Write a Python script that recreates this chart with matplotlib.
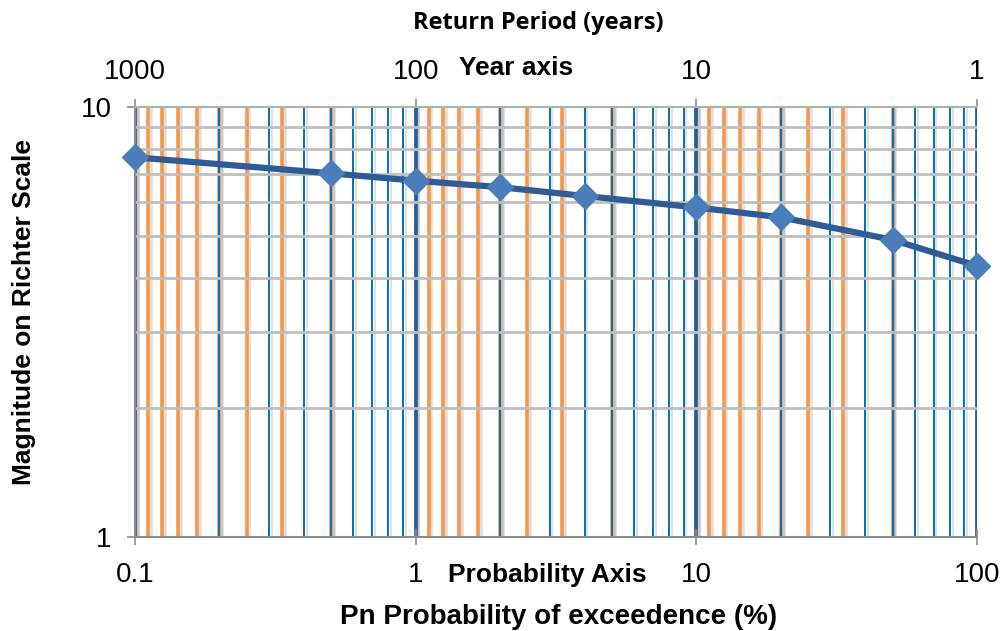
import matplotlib
matplotlib.use("Agg")
import matplotlib.pyplot as plt
import matplotlib.patheffects as pe
from matplotlib.ticker import FixedLocator, FixedFormatter, NullLocator

# data
prob_pct = [0.1, 0.5, 1, 2, 4, 10, 20, 50, 100]
magnitude = [7.64, 7.01, 6.74, 6.51, 6.21, 5.84, 5.54, 4.91, 4.27]

prob_ticks = [0.1, 1, 10, 100]
prob_labels = ["0.1", "1", "10", "100"]
mag_ticks = [1, 10]
mag_labels = ["1", "10"]
year_ticks = [1000, 100, 10, 1]
year_labels = ["1000", "100", "10", "1"]

# return periods that get an orange gridline
year_grid = [1000, 900, 800, 700, 600, 500, 400, 300, 200,
             100, 90, 80, 70, 60, 50, 40, 30, 20,
             10, 9, 8, 7, 6, 5, 4, 3, 2, 1]

plt.rcParams['font.family'] = ['Liberation Sans', 'DejaVu Sans']

fig = plt.figure(figsize=(10.03, 6.31), dpi=100)
ax = fig.add_axes([0.1346, 0.149, 0.8395, 0.6814])
ax.set_xscale('log')
ax.set_yscale('log')
ax.set_xlim(0.1, 100)
ax.set_ylim(1, 10)

shadow = [pe.SimpleLineShadow(offset=(2, -1), shadow_color='#808080', alpha=0.25),
          pe.Normal()]

# orange return-period lines sit below the blue ones
for T in year_grid:
    ax.axvline(100 / T, color='#F79646', lw=2.6, zorder=0.2, path_effects=shadow)

ax.set_axisbelow(True)
ax.grid(True, which='minor', axis='x', color='#0070C0', lw=1.4, path_effects=shadow)
ax.grid(True, which='major', axis='x', color='#1F5F9F', lw=2.6, path_effects=shadow)
ax.grid(True, which='minor', axis='y', color='#BFBFBF', lw=2.0)

ax.plot(prob_pct, magnitude, color='#2F5C94', lw=4.5, zorder=3,
        marker='D', markersize=13, markerfacecolor='#4A7EBB',
        markeredgecolor='#4A7EBB', clip_on=False)

ax.xaxis.set_major_locator(FixedLocator(prob_ticks))
ax.xaxis.set_major_formatter(FixedFormatter(prob_labels))
ax.yaxis.set_major_locator(FixedLocator(mag_ticks))
ax.yaxis.set_major_formatter(FixedFormatter(mag_labels))
ax.yaxis.set_minor_formatter(FixedFormatter([]))
ax.xaxis.set_minor_formatter(FixedFormatter([]))
ax.tick_params(axis='x', which='minor', length=0)
ax.tick_params(axis='y', which='minor', length=0)
ax.tick_params(axis='both', which='major', direction='inout', length=11.5,
               width=1.2, color='#8C8C8C', labelsize=20)
ax.tick_params(axis='x', which='major', pad=12)
ax.tick_params(axis='y', which='major', pad=11)

for s in ['left', 'bottom']:
    ax.spines[s].set_color('#8C8C8C')
    ax.spines[s].set_linewidth(1.5)
ax.spines['right'].set_visible(False)
ax.spines['top'].set_color('#A6B8A8')
ax.spines['top'].set_linewidth(1.5)

top = ax.secondary_xaxis('top', functions=(lambda p: 100 / p, lambda t: 100 / t))
top.xaxis.set_major_locator(FixedLocator(year_ticks))
top.xaxis.set_major_formatter(FixedFormatter(year_labels))
top.xaxis.set_minor_locator(NullLocator())
top.tick_params(axis='x', which='major', direction='out', length=5.8,
                width=1.2, color='#8C8C8C', labelsize=20, pad=10)
top.spines['top'].set_visible(False)

fig.text(0.537, 0.963, "Return Period (years)", ha='center', va='center',
         fontsize=17, fontweight='bold', family=['Open Sans', 'DejaVu Sans'])
fig.text(0.515, 0.892, "Year axis", ha='center', va='center',
         fontsize=19, fontweight='bold')
fig.text(0.546, 0.089, "Probability Axis", ha='center', va='center',
         fontsize=19, fontweight='bold')
fig.text(0.557, 0.022, "Pn Probability of exceedence (%)", ha='center',
         va='center', fontsize=20, fontweight='bold')
fig.text(0.024, 0.505, "Magnitude on Richter Scale", ha='center', va='center',
         rotation=90, fontsize=19, fontweight='bold')

fig.savefig('out.png', dpi=100)
